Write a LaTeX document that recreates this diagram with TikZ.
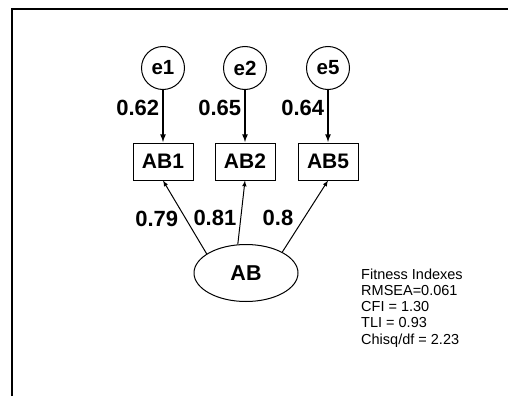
\documentclass[tikz,border=0pt]{standalone}
\usepackage{fontspec}
\setmainfont{Liberation Sans}
\usetikzlibrary{shapes.geometric,arrows}

\begin{document}
\begin{tikzpicture}[x=1pt,y=-1pt,
    err/.style={circle,draw,line width=1pt,minimum size=43pt,inner sep=0pt,
                font=\fontsize{20.5}{20}\selectfont\bfseries},
    obs/.style={rectangle,draw,line width=1pt,minimum width=60pt,minimum height=37pt,
                inner sep=0pt,font=\fontsize{21}{21}\selectfont\bfseries},
    lat/.style={ellipse,draw,line width=1pt,minimum width=104pt,minimum height=57pt,
                inner sep=0pt,font=\fontsize{21.5}{21}\selectfont\bfseries},
    coef/.style={inner sep=3pt,font=\fontsize{22}{22}\selectfont\bfseries},
    resid/.style={-latex,line width=1.6pt,shorten >=0.5pt},
    load/.style={-latex,line width=1pt}]

    \useasboundingbox (0,0) rectangle (508,396);
    \draw[line width=2pt] (12,396) -- (12,9) -- (508,9);

    \node[lat] (AB) at (246,273) {AB};

    \foreach \n/\x/\v in {1/163/0.62, 2/245/0.65, 5/328/0.64}
             {
               \node[err] (e\n) at (\x,68) {e\n};
               \node[obs] (AB\n) at (\x,161.5) {AB\n};
               \draw[resid] (e\n) -- node[coef,left,pos=0.35] {\v} (AB\n);
             }

    \foreach \n/\a/\p/\s/\v in {1/154/0.48/-4/0.79, 2/106/0.42/-1/0.81, 5/30/0.47/-7/0.8}
             {
               \draw[load] (AB.\a) -- node[coef,left,pos=\p,xshift=\s] {\v} (AB\n.south);
             }

    \node[anchor=north west,inner sep=0pt,align=left,
          font=\fontsize{14.5}{16.25}\selectfont] (fit) at (361,268.5)
         {Fitness Indexes\\RMSEA=0.061\\CFI = 1.30\\TLI = 0.93\\Chisq/df = 2.23};
\end{tikzpicture}
\end{document}
